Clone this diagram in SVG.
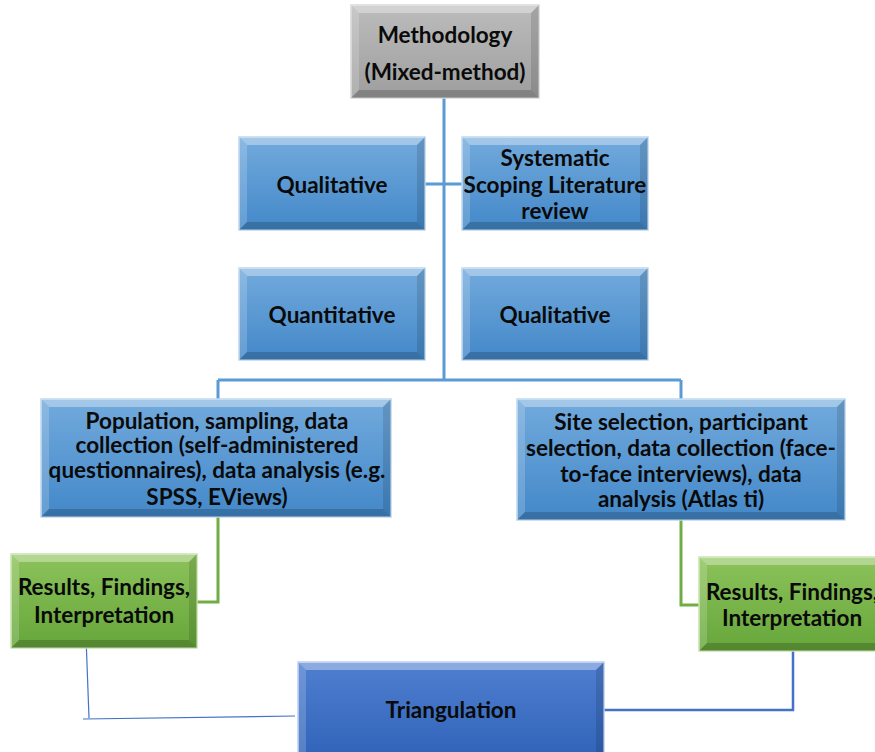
<svg xmlns="http://www.w3.org/2000/svg" width="875" height="752" viewBox="0 0 875 752">
<defs>
<linearGradient id="gBlue" x1="0" y1="0" x2="0" y2="1"><stop offset="0" stop-color="#72aadc"/><stop offset="1" stop-color="#4388c9"/></linearGradient>
<linearGradient id="gGray" x1="0" y1="0" x2="0" y2="1"><stop offset="0" stop-color="#bcbcbc"/><stop offset="1" stop-color="#9e9e9e"/></linearGradient>
<linearGradient id="gGreen" x1="0" y1="0" x2="0" y2="1"><stop offset="0" stop-color="#8cc35a"/><stop offset="1" stop-color="#66a63a"/></linearGradient>
<linearGradient id="gDark" x1="0" y1="0" x2="0" y2="1"><stop offset="0" stop-color="#4f7fd0"/><stop offset="1" stop-color="#2f62b8"/></linearGradient>
</defs>
<style>
.blue{fill:url(#gBlue);stroke:#bcd8f0;stroke-width:1.5}
.gray{fill:url(#gGray);stroke:#d8d8d8;stroke-width:1.5}
.green{fill:url(#gGreen);stroke:#c6e3ad;stroke-width:1.5}
.dark{fill:url(#gDark);stroke:#bcd0f0;stroke-width:1.5}
.bt{fill:#ffffff;fill-opacity:0.35}
.bl{fill:#ffffff;fill-opacity:0.18}
.br{fill:#000000;fill-opacity:0.12}
.bb{fill:#000000;fill-opacity:0.18}
text{font-family:Lato,"Open Sans","Liberation Sans",sans-serif;font-weight:bold;font-size:22.5px;fill:#0a0a0a;text-anchor:middle;dominant-baseline:central}
.cb{fill:none;stroke:#5b9bd5;stroke-width:3}
.cg{fill:none;stroke:#70ad47;stroke-width:3}
.cd{fill:none;stroke:#4472c4;stroke-width:2.5}
.ct{fill:none;stroke:#4472c4;stroke-width:1.2}
</style>
<g id="connectors">
<path class="cb" d="M444 98 V380 M425 184 H462 M218 380 H681 M218 380 V399 M681 380 V399"/>
<path class="cg" d="M218 517 V602 H197 M681 520 V605 H699"/>
<path class="cd" d="M793 651 V710 H604"/>
<path class="ct" d="M86 637 L89 718 M83 719 L295 716"/>
</g>
<g id="n-methodology">
<rect class="gray" x="351" y="5" width="188" height="93"/>
<path class="bt" d="M351 5 L539 5 L531 13 L359 13Z"/><path class="bl" d="M351 5 L359 13 L359 90 L351 98Z"/><path class="br" d="M539 5 L539 98 L531 90 L531 13Z"/><path class="bb" d="M351 98 L539 98 L531 90 L359 90Z"/>
<text x="445" y="34">Methodology</text><text x="445" y="71">(Mixed-method)</text>
</g>
<g id="n-qualitative1">
<rect class="blue" x="239" y="137" width="186" height="93"/>
<path class="bt" d="M239 137 L425 137 L417 145 L247 145Z"/><path class="bl" d="M239 137 L247 145 L247 222 L239 230Z"/><path class="br" d="M425 137 L425 230 L417 222 L417 145Z"/><path class="bb" d="M239 230 L425 230 L417 222 L247 222Z"/>
<text x="332" y="184">Qualitative</text>
</g>
<g id="n-systematic">
<rect class="blue" x="462" y="137" width="186" height="93"/>
<path class="bt" d="M462 137 L648 137 L640 145 L470 145Z"/><path class="bl" d="M462 137 L470 145 L470 222 L462 230Z"/><path class="br" d="M648 137 L648 230 L640 222 L640 145Z"/><path class="bb" d="M462 230 L648 230 L640 222 L470 222Z"/>
<text x="555" y="157">Systematic</text><text x="555" y="184">Scoping Literature</text><text x="555" y="210">review</text>
</g>
<g id="n-quantitative">
<rect class="blue" x="239" y="268" width="186" height="92"/>
<path class="bt" d="M239 268 L425 268 L417 276 L247 276Z"/><path class="bl" d="M239 268 L247 276 L247 352 L239 360Z"/><path class="br" d="M425 268 L425 360 L417 352 L417 276Z"/><path class="bb" d="M239 360 L425 360 L417 352 L247 352Z"/>
<text x="332" y="314">Quantitative</text>
</g>
<g id="n-qualitative2">
<rect class="blue" x="462" y="268" width="186" height="92"/>
<path class="bt" d="M462 268 L648 268 L640 276 L470 276Z"/><path class="bl" d="M462 268 L470 276 L470 352 L462 360Z"/><path class="br" d="M648 268 L648 360 L640 352 L640 276Z"/><path class="bb" d="M462 360 L648 360 L640 352 L470 352Z"/>
<text x="555" y="314">Qualitative</text>
</g>
<g id="n-quant-process">
<rect class="blue" x="41" y="399" width="350" height="118"/>
<path class="bt" d="M41 399 L391 399 L383 407 L49 407Z"/><path class="bl" d="M41 399 L49 407 L49 509 L41 517Z"/><path class="br" d="M391 399 L391 517 L383 509 L383 407Z"/><path class="bb" d="M41 517 L391 517 L383 509 L49 509Z"/>
<text x="217" y="420">Population, sampling, data</text><text x="217" y="444">collection (self-administered</text><text x="217" y="469">questionnaires), data analysis (e.g.</text><text x="217" y="496">SPSS, EViews)</text>
</g>
<g id="n-qual-process">
<rect class="blue" x="517" y="399" width="328" height="121"/>
<path class="bt" d="M517 399 L845 399 L837 407 L525 407Z"/><path class="bl" d="M517 399 L525 407 L525 512 L517 520Z"/><path class="br" d="M845 399 L845 520 L837 512 L837 407Z"/><path class="bb" d="M517 520 L845 520 L837 512 L525 512Z"/>
<text x="681" y="421">Site selection, participant</text><text x="681" y="447">selection, data collection (face-</text><text x="681" y="473">to-face interviews), data</text><text x="681" y="498">analysis (Atlas ti)</text>
</g>
<g id="n-results-left">
<rect class="green" x="11" y="554" width="186" height="94"/>
<path class="bt" d="M11 554 L197 554 L189 562 L19 562Z"/><path class="bl" d="M11 554 L19 562 L19 640 L11 648Z"/><path class="br" d="M197 554 L197 648 L189 640 L189 562Z"/><path class="bb" d="M11 648 L197 648 L189 640 L19 640Z"/>
<text x="104" y="586">Results, Findings,</text><text x="104" y="614">Interpretation</text>
</g>
<g id="n-results-right">
<rect class="green" x="699" y="557" width="186" height="94"/>
<path class="bt" d="M699 557 L885 557 L877 565 L707 565Z"/><path class="bl" d="M699 557 L707 565 L707 643 L699 651Z"/><path class="bb" d="M699 651 L885 651 L877 643 L707 643Z"/>
<text x="792" y="591">Results, Findings,</text><text x="792" y="617">Interpretation</text>
</g>
<g id="n-triangulation">
<rect class="dark" x="298" y="662" width="306" height="100"/>
<path class="bt" d="M298 662 L604 662 L596 670 L306 670Z"/><path class="bl" d="M298 662 L306 670 L306 762 L298 762Z"/><path class="br" d="M604 662 L604 762 L596 762 L596 670Z"/>
<text x="451" y="709">Triangulation</text>
</g>
</svg>
